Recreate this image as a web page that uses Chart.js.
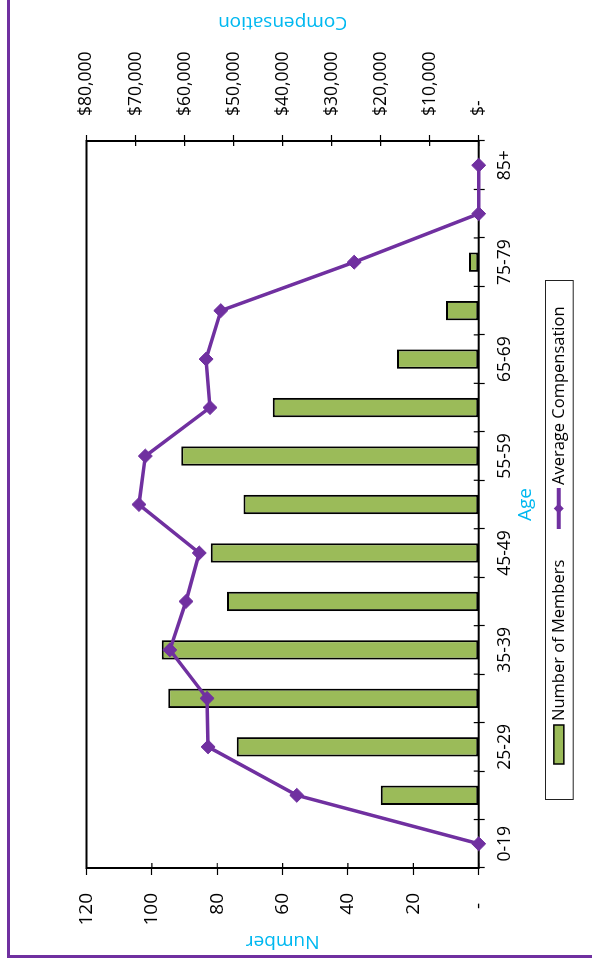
<!DOCTYPE html>
<html><head><meta charset="utf-8">
<script src="https://cdn.jsdelivr.net/npm/chart.js@4.4.1/dist/chart.umd.min.js"></script>
<style>
html,body{margin:0;padding:0;background:#fff;overflow:hidden;width:592px;height:965px;}
#wrap{position:absolute;left:0;top:0;width:965px;height:592px;transform-origin:0 0;transform:translateY(965px) rotate(-90deg);}
canvas{display:block;}
</style></head><body>
<div id="wrap"><canvas id="c" width="965" height="592"></canvas></div>
<script>
const categories = ['0-19','20-24','25-29','30-34','35-39','40-44','45-49','50-54','55-59','60-64','65-69','70-74','75-79','80-84','85+'];
const numberOfMembers = [0,30,74,95,97,77,82,72,91,63,25,10,3,0,0];
const averageCompensation = [0,37100,55200,55400,63000,59700,57000,69300,68000,54800,55600,52600,25400,0,0];
const numberAxis = {min:0, max:120, step:20};
const compensationAxis = {min:0, max:80000, step:10000};
const seriesNames = ['Number of Members','Average Compensation'];
const axisTitles = {x:'Age', y:'Number', y2:'Compensation'};

const FONT = "'Open Sans', sans-serif";
const PURPLE = '#7030A0';
const GREEN = '#9BBB59';
const CYAN = '#00B8F0';
Chart.defaults.font.family = FONT;
Chart.defaults.color = '#000';

const decorPlugin = {
  id:'decor',
  beforeDraw(chart){
    const ctx = chart.ctx;
    ctx.save();
    ctx.fillStyle = '#fff';
    ctx.fillRect(0,0,chart.width,chart.height);
    ctx.strokeStyle = PURPLE; ctx.lineWidth = 3;
    ctx.beginPath();
    ctx.moveTo(8.5, chart.height); ctx.lineTo(8.5, 8.5); ctx.lineTo(chart.width, 8.5);
    ctx.stroke();
    ctx.restore();
  },
  beforeDatasetsDraw(chart){
    const ctx = chart.ctx, a = chart.chartArea;
    ctx.save();
    ctx.strokeStyle = '#000'; ctx.lineWidth = 2;
    ctx.strokeRect(a.left, a.top, a.right - a.left, a.bottom - a.top);
    ctx.lineWidth = 1.2;
    ctx.beginPath();
    const y = chart.scales.y, y2 = chart.scales.y2, x = chart.scales.x;
    y.ticks.forEach(t => { const p = y.getPixelForValue(t.value); ctx.moveTo(a.left, p); ctx.lineTo(a.left + 5, p); });
    y2.ticks.forEach(t => { const p = y2.getPixelForValue(t.value); ctx.moveTo(a.right - 5, p); ctx.lineTo(a.right, p); });
    const half = (x.getPixelForValue(1) - x.getPixelForValue(0)) / 2;
    for (let i = 0; i <= categories.length; i++) {
      const p = x.getPixelForValue(0) - half + i * 2 * half;
      ctx.moveTo(p, a.bottom - 5); ctx.lineTo(p, a.bottom);
    }
    ctx.stroke();
    ctx.restore();
  },
  afterDraw(chart){
    const ctx = chart.ctx, a = chart.chartArea;
    ctx.save();
    ctx.fillStyle = CYAN;
    ctx.font = "19px " + FONT;
    ctx.textAlign = 'center'; ctx.textBaseline = 'middle';
    ctx.translate(chart.scales.y2.right - 22.5, (a.top + a.bottom) / 2);
    ctx.rotate(-Math.PI / 2);
    ctx.fillText(axisTitles.y2, 0, 0);
    ctx.restore();
    ctx.save();
    const top = 545, bot = 572.7, mid = (top + bot) / 2;
    ctx.strokeStyle = '#222'; ctx.lineWidth = 1;
    ctx.strokeRect(165.5, top + 0.5, 519, bot - top);
    ctx.fillStyle = GREEN;
    ctx.fillRect(201, mid - 5, 39, 10);
    ctx.strokeStyle = '#000'; ctx.lineWidth = 1.5;
    ctx.strokeRect(201, mid - 5, 39, 10);
    ctx.fillStyle = '#000';
    ctx.font = "16.5px " + FONT;
    ctx.textAlign = 'left'; ctx.textBaseline = 'middle';
    ctx.fillText(seriesNames[0], 244, mid);
    ctx.strokeStyle = PURPLE; ctx.lineWidth = 4;
    ctx.beginPath(); ctx.moveTo(436, mid); ctx.lineTo(477, mid); ctx.stroke();
    ctx.fillStyle = PURPLE;
    ctx.beginPath(); ctx.moveTo(456.5 - 5, mid); ctx.lineTo(456.5, mid - 5); ctx.lineTo(456.5 + 5, mid); ctx.lineTo(456.5, mid + 5); ctx.closePath(); ctx.fill();
    ctx.fillStyle = '#000';
    ctx.fillText(seriesNames[1], 480, mid);
    ctx.restore();
  }
};

new Chart(document.getElementById('c'), {
  data: {
    labels: categories,
    datasets: [
      {type:'line', label:seriesNames[1], data:averageCompensation, yAxisID:'y2', order:0,
       borderColor:PURPLE, borderWidth:3.5, tension:0, clip:false,
       pointStyle:'rectRot', pointRadius:7, pointBackgroundColor:PURPLE, pointBorderColor:PURPLE, pointBorderWidth:1},
      {type:'bar', label:seriesNames[0], data:numberOfMembers, yAxisID:'y', order:1,
       backgroundColor:GREEN, borderColor:'#000', borderWidth:2, borderSkipped:false,
       barPercentage:0.4, categoryPercentage:1}
    ]
  },
  options: {
    responsive:false, animation:false, devicePixelRatio:1,
    layout:{padding:{top:86.5, left:0, right:0, bottom:0}},
    plugins:{legend:{display:false}, tooltip:{enabled:false}},
    scales:{
      x:{type:'category', offset:true,
         grid:{offset:true, drawOnChartArea:false, drawTicks:true, tickLength:6, tickColor:'#000', tickWidth:1.2},
         border:{display:false},
         ticks:{autoSkip:false, maxRotation:0, minRotation:0, padding:10, color:'#000', font:{size:17.5},
                callback:(v,i) => i % 2 === 0 ? categories[i] : ''},
         title:{display:true, text:axisTitles.x, color:CYAN, font:{size:19}, padding:{top:0, bottom:54.6}},
         afterFit:s => { s.height = 113.3; }},
      y:{type:'linear', position:'left', min:numberAxis.min, max:numberAxis.max,
         grid:{drawOnChartArea:false, drawTicks:true, tickLength:7, tickColor:'#000', tickWidth:1.2},
         border:{display:false},
         ticks:{stepSize:numberAxis.step, padding:18, color:'#000', font:{size:19},
                callback:v => v === 0 ? '-  ' : String(v)},
         title:{display:true, text:axisTitles.y, color:CYAN, font:{size:19}, padding:{top:12.1, bottom:0}},
         afterFit:s => { s.width = 97; }},
      y2:{type:'linear', position:'right', min:compensationAxis.min, max:compensationAxis.max,
          grid:{drawOnChartArea:false, drawTicks:true, tickLength:6, tickColor:'#000', tickWidth:1.2},
          border:{display:false},
          ticks:{stepSize:compensationAxis.step, padding:19, color:'#000', font:{size:17.5},
                 callback:v => v === 0 ? '$-' : '$' + v.toLocaleString('en-US')},
          afterFit:s => { s.width = 141; }}
    }
  },
  plugins:[decorPlugin]
});
</script>
</body></html>
